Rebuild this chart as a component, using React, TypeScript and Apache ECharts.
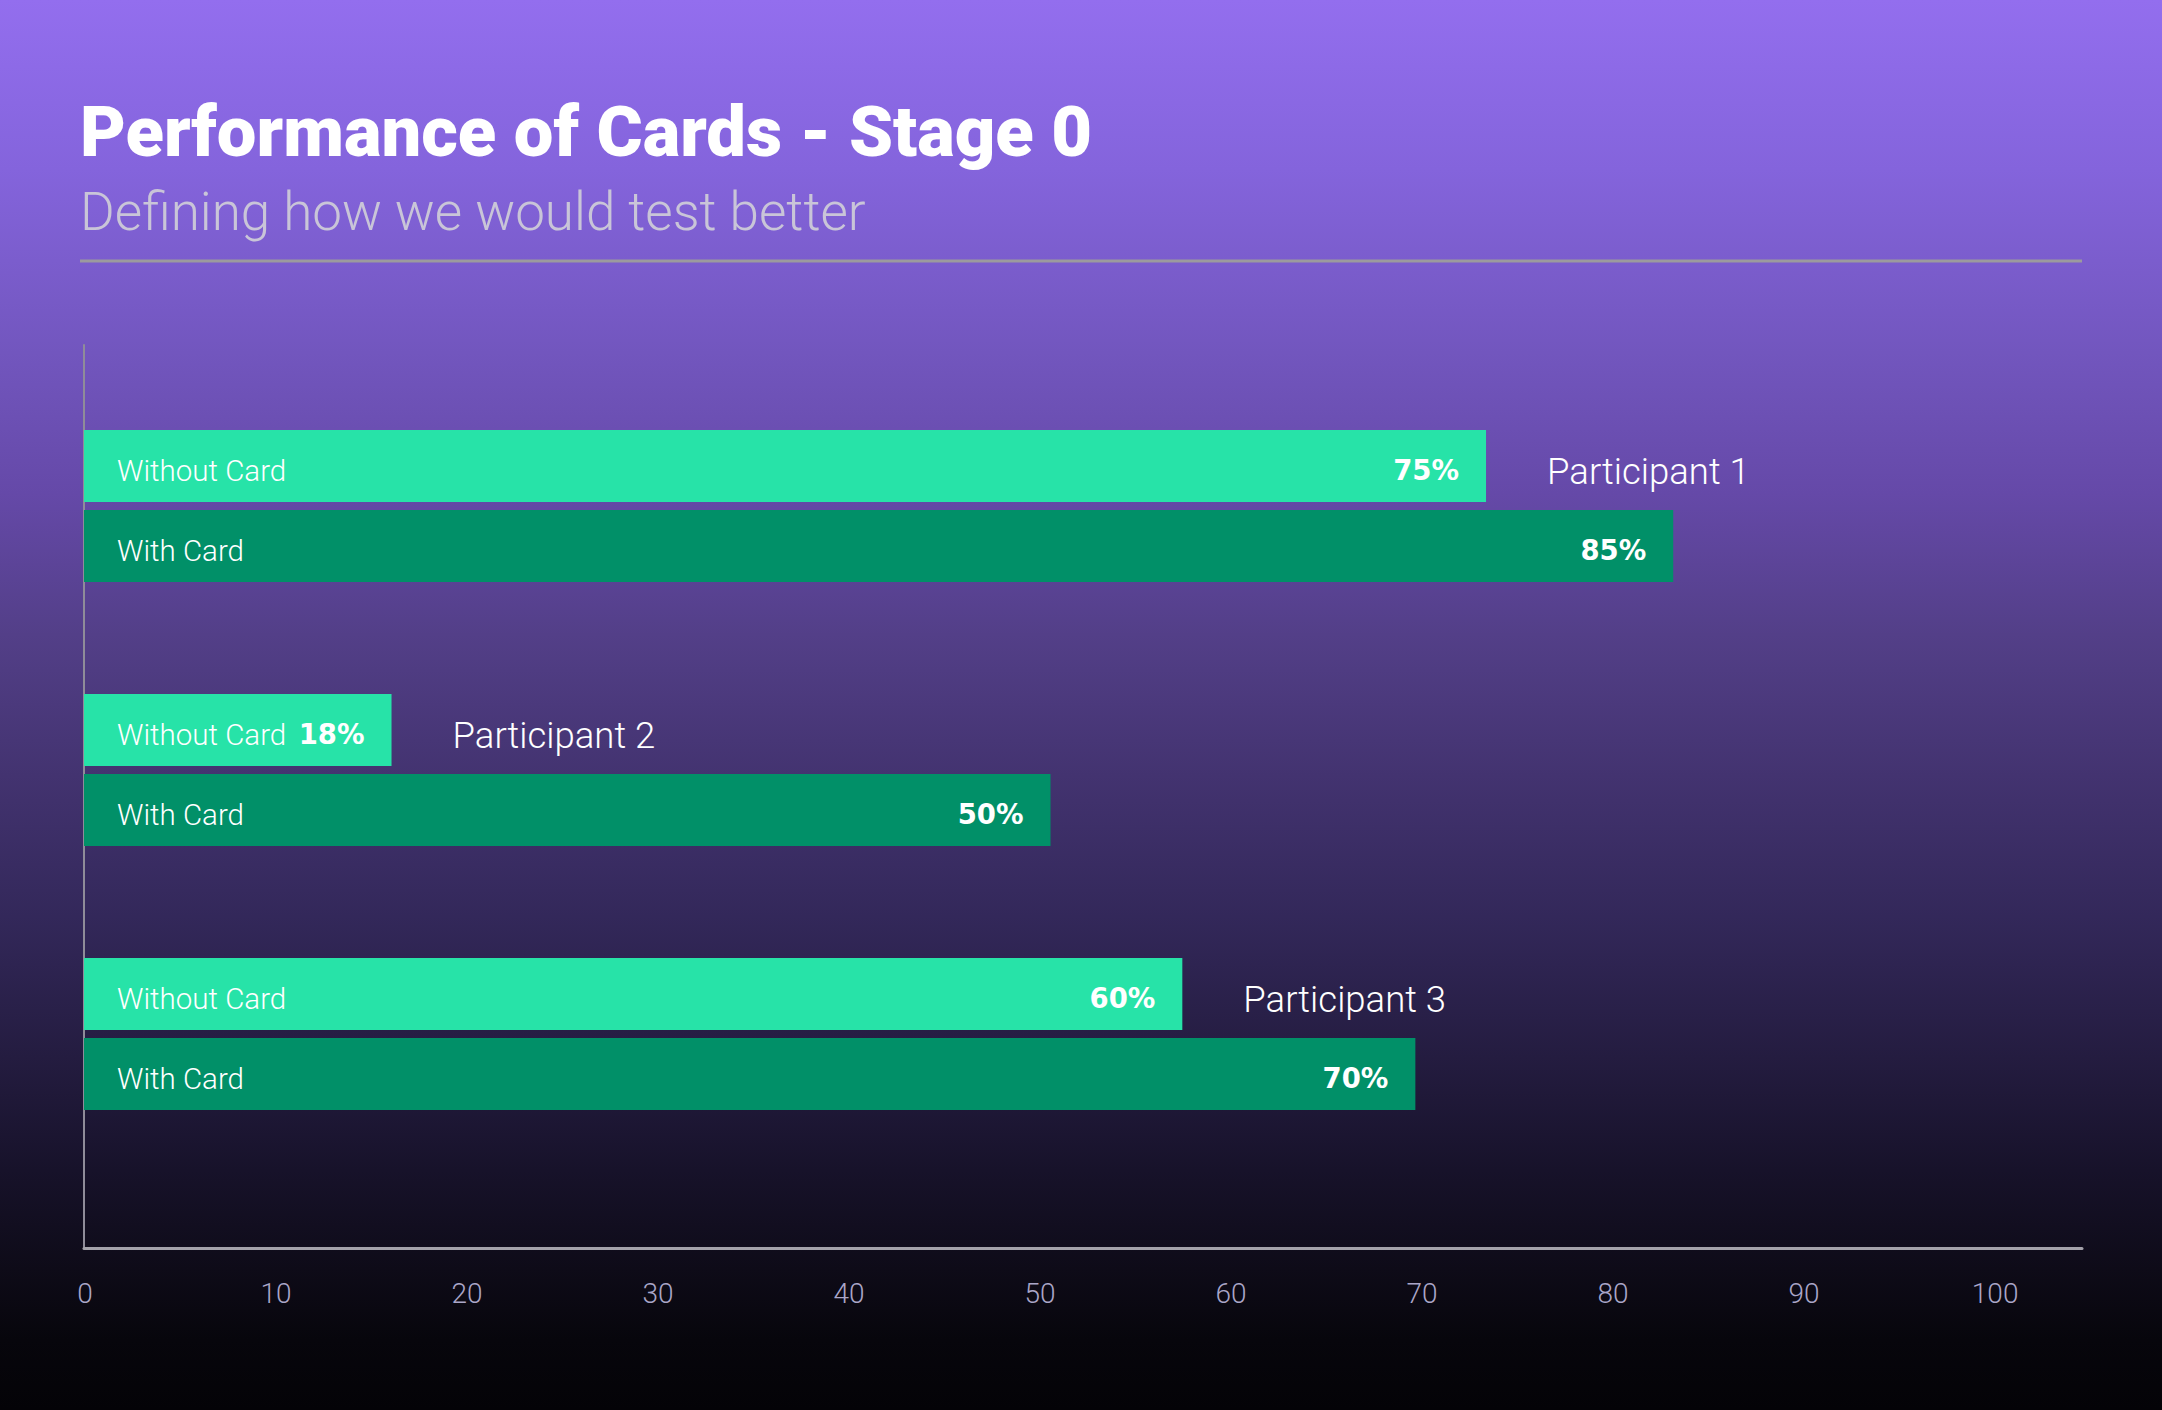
import React, { useEffect, useRef } from 'react';
import * as echarts from 'echarts';

// ---- data ----
const categories = ['Participant 1', 'Participant 2', 'Participant 3'];
const seriesNames = ['Without Card', 'With Card'];
// percentages printed on the bars
const withoutCardPct = [75, 18, 60];
const withCardPct = [85, 50, 70];
// bar lengths as read against the x axis
const withoutCardBar = [73.4, 16.1, 57.5];
const withCardBar = [83.2, 50.6, 69.7];
const axisMin = 0;
const axisMax = 104.6;
const tickStep = 10;
const titleText = 'Performance of Cards - Stage 0';
const subtitleText = 'Defining how we would test better';

const W = 2162;
const H = 1410;

export default function App() {
  const ref = useRef<HTMLDivElement>(null);
  useEffect(() => {
    document.body.style.margin = '0';
    document.body.style.overflow = 'hidden';
    const chart = echarts.init(ref.current!, null, { renderer: 'svg' });

    const barGrid = { left: 84, right: 80, top: 374, height: 792 };
    const hiddenX = (i: number) => ({ type: 'value', gridIndex: i, min: axisMin, max: axisMax, show: false });
    const hiddenY = (i: number) => ({ type: 'category', gridIndex: i, data: categories, inverse: true, show: false });
    const barCommon = { type: 'bar', barWidth: 72, barGap: '11.1%', silent: true };
    const transparent = { color: 'rgba(0,0,0,0)' };

    const nameLabel = (name: string) => ({
      show: true,
      position: 'insideLeft',
      distance: 33,
      offset: [0, 5],
      formatter: name,
      color: '#ffffff',
      fontFamily: 'Roboto',
      fontWeight: 300,
      fontSize: 29.5,
    });
    const valueLabel = (pcts: number[]) => ({
      show: true,
      position: 'insideRight',
      distance: 27,
      offset: [0, 4],
      formatter: (p: any) => pcts[p.dataIndex] + '%',
      color: '#ffffff',
      fontFamily: 'DejaVu Sans',
      fontWeight: 'bold',
      fontSize: 27.5,
    });

    const option: any = {
      animation: false,
      backgroundColor: {
        type: 'linear', x: 0, y: 0, x2: 0, y2: 1,
        colorStops: [
          { offset: 0, color: '#936EEE' },
          { offset: 0.12, color: '#8464DC' },
          { offset: 0.25, color: '#7256BE' },
          { offset: 0.35, color: '#6549A8' },
          { offset: 0.45, color: '#533F88' },
          { offset: 0.55, color: '#433370' },
          { offset: 0.65, color: '#33285A' },
          { offset: 0.75, color: '#241C40' },
          { offset: 0.83, color: '#17122A' },
          { offset: 0.9, color: '#0E0B18' },
          { offset: 0.95, color: '#07060C' },
          { offset: 1, color: '#040307' },
        ],
      },
      graphic: [
        {
          type: 'text', x: 80, y: 132,
          style: {
            text: titleText, fill: '#ffffff', fontFamily: 'Roboto', fontWeight: 900, fontSize: 70.5,
            align: 'left', verticalAlign: 'middle',
          },
        },
        {
          type: 'text', x: 80, y: 212,
          style: {
            text: subtitleText, fill: '#c9c5d8', fontFamily: 'Roboto', fontWeight: 300, fontSize: 53,
            align: 'left', verticalAlign: 'middle',
          },
        },
        {
          type: 'line',
          shape: { x1: 80, y1: 261, x2: 2082, y2: 261 },
          style: { stroke: '#9c9a9e', lineWidth: 3 },
        },
      ],
      grid: [
        { left: 84, right: 80, top: 345, bottom: H - 1248 },
        barGrid,
        barGrid,
        barGrid,
      ],
      xAxis: [
        {
          type: 'value', gridIndex: 0, min: axisMin, max: axisMax, interval: tickStep,
          axisLine: { show: true, onZero: false, lineStyle: { color: '#a4a2aa', width: 3 } },
          axisTick: { show: false },
          splitLine: { show: false },
          axisLabel: {
            margin: 31,
            formatter: (v: number) => (v % tickStep === 0 && v <= 100 ? `{t|${v}}` : ''),
            rich: {
              t: { fontFamily: 'Roboto', fontWeight: 300, fontSize: 28, color: '#aaa6c8', padding: [0, 0, 0, 2] },
            },
          },
        },
        hiddenX(1),
        hiddenX(2),
        hiddenX(3),
      ],
      yAxis: [
        {
          type: 'value', gridIndex: 0, min: 0, max: 1,
          axisLine: { show: true, onZero: false, lineStyle: { color: '#8f8c99', width: 2 } },
          axisTick: { show: false },
          axisLabel: { show: false },
          splitLine: { show: false },
        },
        hiddenY(1),
        hiddenY(2),
        hiddenY(3),
      ],
      series: [
        {
          ...barCommon, name: seriesNames[0], xAxisIndex: 1, yAxisIndex: 1, data: withoutCardBar,
          itemStyle: { color: '#27E3A8' }, label: nameLabel(seriesNames[0]),
        },
        {
          ...barCommon, name: seriesNames[1], xAxisIndex: 1, yAxisIndex: 1, data: withCardBar,
          itemStyle: { color: '#019068' }, label: nameLabel(seriesNames[1]),
        },
        {
          ...barCommon, name: seriesNames[0] + ' value', xAxisIndex: 2, yAxisIndex: 2, data: withoutCardBar,
          itemStyle: transparent, label: valueLabel(withoutCardPct),
        },
        {
          ...barCommon, name: seriesNames[1] + ' value', xAxisIndex: 2, yAxisIndex: 2, data: withCardBar,
          itemStyle: transparent, label: valueLabel(withCardPct),
        },
        {
          ...barCommon, name: 'participant', xAxisIndex: 3, yAxisIndex: 3, data: withoutCardBar,
          itemStyle: transparent,
          label: {
            show: true, position: 'right', distance: 61, offset: [0, 5],
            formatter: (p: any) => categories[p.dataIndex],
            color: '#ffffff', fontFamily: 'Roboto', fontWeight: 300, fontSize: 36.5,
          },
        },
        {
          ...barCommon, name: 'participant pad', xAxisIndex: 3, yAxisIndex: 3, data: withCardBar,
          itemStyle: transparent, label: { show: false },
        },
      ],
    };
    chart.setOption(option);
    return () => chart.dispose();
  }, []);
  return <div ref={ref} style={{ width: W, height: H }} />;
}
